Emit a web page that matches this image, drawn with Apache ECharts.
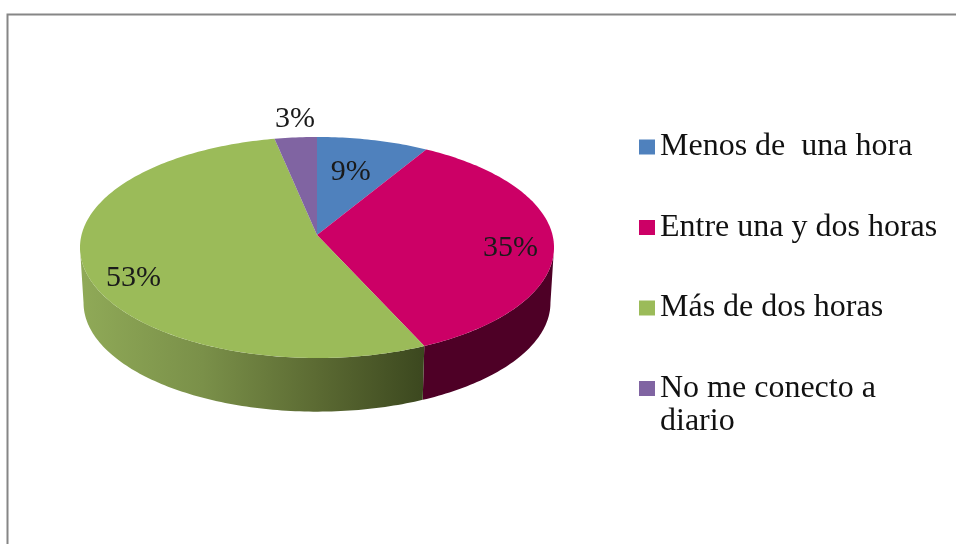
<!DOCTYPE html>
<html><head><meta charset="utf-8">
<style>html,body{margin:0;padding:0;background:#fff}#c{width:956px;height:544px}</style>
<script src="https://cdn.jsdelivr.net/npm/echarts@6/dist/echarts.min.js"></script>
</head><body><div id="c"></div>
<script>
const categories = ['Menos de  una hora', 'Entre una y dos horas', 'Más de dos horas', 'No me conecto a diario'];
const shares = [8.5, 34.8, 53.49, 3.21];
const percentLabels = ['9%', '35%', '53%', '3%'];

const topColors = ['#4f81bd', '#cc0066', '#9bbb59', '#8064a2'];
const FONT = '"Liberation Serif", serif';
const CX = 317, CY = 235, A = 235.5, B = 109.1, K = 0.113;
const DEPTH = 55.5, SHRINK = 0.985;
const labelRadius = [0.65, 0.81, 0.8, 1.2];
const labelShift = [[-4, 1], [2, 8], [1, 16], [3, -1]];
const total = shares.reduce((s, v) => s + v, 0);
const VIS0 = 96.5, VIS1 = 263.5;

function project(deg, r, s, dy) {
  const a = deg * Math.PI / 180, w = 1 + K * r * Math.cos(a);
  return [CX + s * A * r * Math.sin(a) / w, CY + dy - s * B * r * Math.cos(a) / w];
}
function arc(a0, a1, s, dy) {
  const pts = [], n = Math.max(2, Math.ceil(Math.abs(a1 - a0)));
  for (let i = 0; i <= n; i++) pts.push(project(a0 + (a1 - a0) * i / n, 1, s, dy));
  return pts;
}
function sideFill(i) {
  if (i === 2) return new echarts.graphic.LinearGradient(84, 0, 423, 0, [
    { offset: 0, color: '#8fa957' }, { offset: 0.35, color: '#7a9049' },
    { offset: 0.68, color: '#5c6b33' }, { offset: 1, color: '#3c481f' }], true);
  return '#4e0026';
}
function renderSlice(i) {
  return function (params, api) {
    let before = 0;
    for (let j = 0; j < i; j++) before += shares[j];
    const a0 = before / total * 360, a1 = (before + api.value(0)) / total * 360;
    const children = [];
    const v0 = Math.max(a0, VIS0), v1 = Math.min(a1, VIS1);
    if (v1 > v0) {
      children.push({ type: 'polygon', silent: true,
        shape: { points: arc(v0, v1, 1, 0).concat(arc(v1, v0, SHRINK, DEPTH)) },
        style: { fill: sideFill(i) } });
    }
    children.push({ type: 'polygon', silent: true,
      shape: { points: [[CX, CY]].concat(arc(a0, a1, 1, 0)) },
      style: { fill: topColors[i] } });
    const p = project((a0 + a1) / 2, labelRadius[i], 1, 0);
    children.push({ type: 'text', silent: true, z2: 10,
      style: { text: percentLabels[i], x: p[0] + labelShift[i][0], y: p[1] + labelShift[i][1],
        align: 'center', verticalAlign: 'middle', font: '30px ' + FONT, fill: '#1a1a1a' } });
    return { type: 'group', children };
  };
}
const legendText = { fontFamily: FONT, fontSize: 32, color: '#111' };
const chart = echarts.init(document.getElementById('c'), null, { renderer: 'canvas' });
chart.setOption({
  animation: false,
  backgroundColor: '#fff',
  graphic: [{ type: 'rect', silent: true, z: -1, shape: { x: 7.5, y: 14.5, width: 1000, height: 600 },
    style: { fill: 'none', stroke: '#868686', lineWidth: 2 } }],
  legend: [
    { left: 634, top: 125, orient: 'vertical', icon: 'rect', itemWidth: 16, itemHeight: 15, itemGap: 46.5,
      textStyle: { ...legendText, lineHeight: 34 }, selectedMode: false, data: categories.slice(0, 3) },
    { left: 634, top: 334, orient: 'vertical', icon: 'rect', itemWidth: 16, itemHeight: 15,
      textStyle: { ...legendText, lineHeight: 33 }, selectedMode: false, data: categories.slice(3),
      formatter: () => '\nNo me conecto a\ndiario' }
  ],
  series: categories.map((name, i) => ({
    type: 'custom', name, coordinateSystem: 'none', silent: true,
    itemStyle: { color: topColors[i] },
    data: [[shares[i]]],
    renderItem: renderSlice(i)
  }))
});
</script></body></html>
